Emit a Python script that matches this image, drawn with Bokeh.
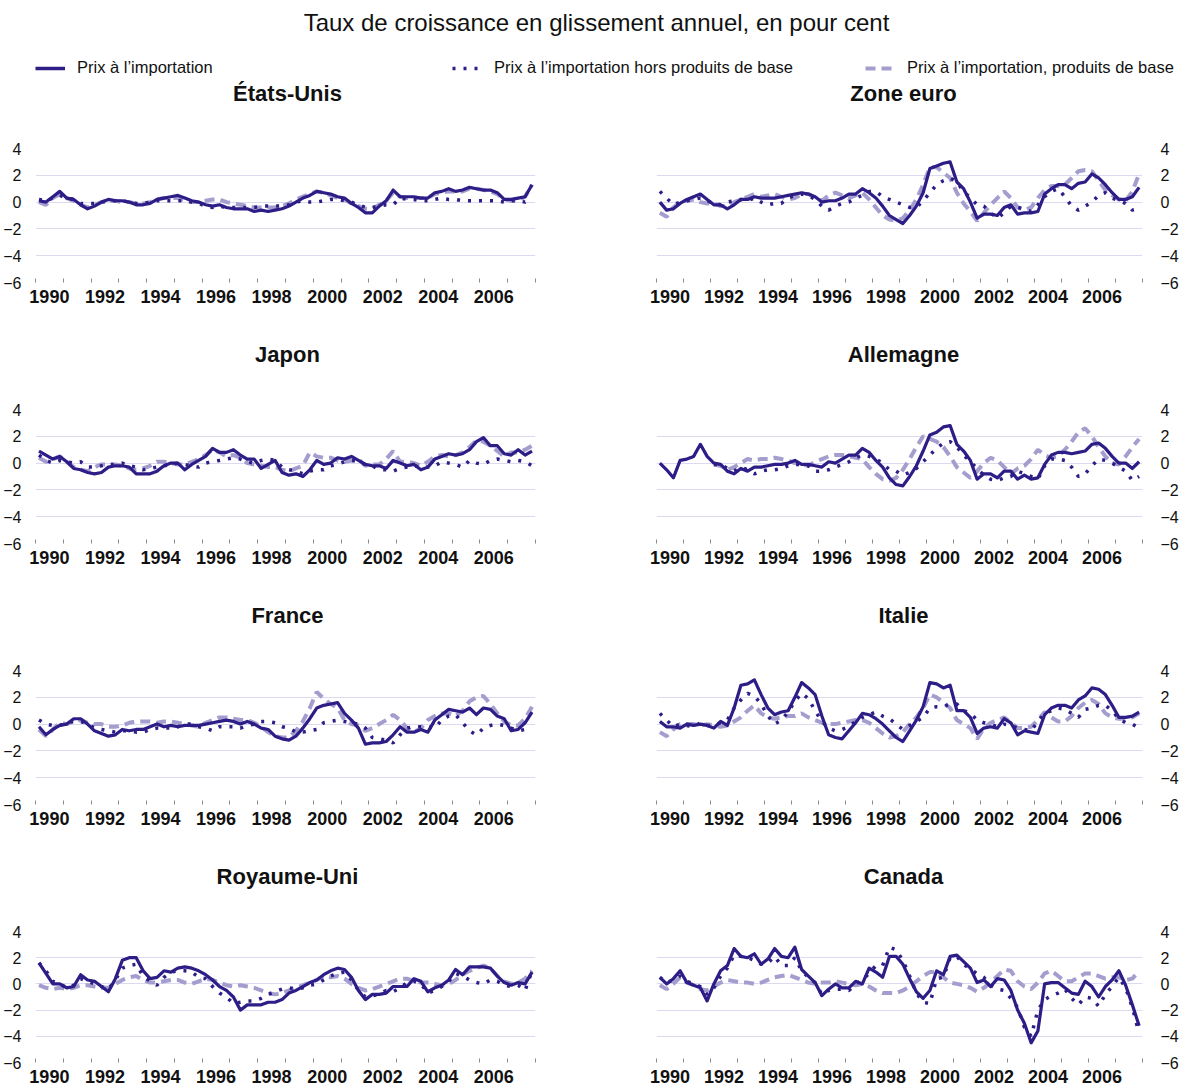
import numpy as np
from bokeh.embed import file_html
from bokeh.layouts import column, row
from bokeh.models import ColumnDataSource, FixedTicker, Label, Legend, LegendItem, Range1d
from bokeh.plotting import figure
from bokeh.resources import INLINE

nan = float("nan")

# Quarterly year-on-year growth of import prices, 1990Q1-2007Q4 (per cent)
YEARS = list(range(1990, 2008))
TICK_LABELS = ["1990", "1992", "1994", "1996", "1998", "2000", "2002", "2004", "2006"]
Y_TICKS = [-6, -4, -2, 0, 2, 4]

SERIES_NAMES = [
    "Prix à l’importation",
    "Prix à l’importation hors produits de base",
    "Prix à l’importation, produits de base",
]

# --- États-Unis ---
us_total = [0.1, 0.0, 0.4, 0.8, 0.3, 0.2, -0.2, -0.5, -0.3, 0.0, 0.2, 0.1,
            0.1, 0.0, -0.2, -0.2, -0.1, 0.2, 0.3, 0.4, 0.5, 0.3, 0.1, 0.0,
            -0.2, -0.3, -0.2, -0.4, -0.5, -0.5, -0.5, -0.7, -0.6, -0.7, -0.6, -0.5,
            -0.3, 0.0, 0.3, 0.5, 0.8, 0.7, 0.6, 0.4, 0.3, -0.1, -0.4, -0.8,
            -0.8, -0.3, 0.1, 0.9, 0.4, 0.4, 0.4, 0.3, 0.3, 0.7, 0.8, 1.0,
            0.8, 0.9, 1.1, 1.0, 0.9, 0.9, 0.7, 0.2, 0.2, 0.3, 0.4, 1.3]
us_core = [0.2, 0.1, 0.3, 0.5, 0.3, 0.2, -0.1, -0.1, -0.1, 0.0, 0.1, 0.1,
           0.1, 0.0, -0.1, -0.1, 0.0, 0.1, 0.1, 0.1, 0.1, 0.1, 0.0, -0.1,
           -0.3, -0.4, -0.3, -0.4, -0.4, -0.4, -0.4, -0.4, -0.3, -0.3, -0.3, -0.3,
           -0.2, 0.0, 0.1, 0.0, 0.0, 0.1, 0.2, 0.2, 0.1, 0.0, -0.2, -0.4,
           -0.4, -0.3, -0.2, -0.2, 0.3, 0.2, 0.2, 0.1, 0.1, 0.2, 0.3, 0.2,
           0.2, 0.1, 0.1, 0.1, 0.1, 0.1, 0.1, 0.0, 0.1, 0.1, 0.0, 0.2]
us_commod = [0.0, -0.2, 0.3, 0.6, 0.3, 0.1, -0.2, -0.4, -0.2, 0.0, 0.1, 0.1,
             0.0, 0.0, -0.1, -0.1, 0.0, 0.2, 0.3, 0.3, 0.3, 0.1, 0.0, 0.0,
             0.1, 0.2, 0.2, 0.0, -0.1, -0.2, -0.3, -0.4, -0.4, -0.4, -0.4, -0.3,
             -0.1, 0.2, 0.4, 0.6, 0.8, 0.7, 0.5, 0.3, 0.2, -0.1, -0.3, -0.5,
             -0.5, -0.2, 0.1, 0.7, 0.4, 0.3, 0.3, 0.3, 0.3, 0.6, 0.7, 0.8,
             0.8, 0.8, 1.0, 1.0, 0.9, 0.8, 0.6, 0.2, 0.1, 0.1, 0.4, 1.3]

# --- Zone euro ---
ez_total = [0.0, -0.6, -0.5, -0.1, 0.2, 0.4, 0.6, 0.2, -0.2, -0.2, -0.5, -0.2,
            0.2, 0.2, 0.4, 0.3, 0.3, 0.3, 0.4, 0.5, 0.6, 0.7, 0.6, 0.4,
            0.0, 0.1, 0.1, 0.3, 0.6, 0.6, 1.0, 0.7, 0.3, -0.3, -1.0, -1.3,
            -1.6, -1.0, -0.3, 0.7, 2.5, 2.7, 2.9, 3.0, 1.5, 1.0, 0.0, -1.2,
            -0.9, -0.9, -1.0, -0.4, -0.2, -0.9, -0.8, -0.8, -0.7, 0.6, 1.0, 1.3,
            1.3, 1.0, 1.4, 1.5, 2.1, 1.8, 1.3, 0.7, 0.2, 0.2, 0.4, 1.1]
ez_core = [0.8, 0.3, -0.2, 0.0, 0.1, 0.2, 0.3, 0.1, -0.1, -0.2, 0.0, 0.1,
           0.2, 0.1, 0.3, 0.0, -0.2, -0.1, -0.1, 0.3, 0.5, 0.6, 0.5, 0.2,
           -0.3, -0.6, -0.3, -0.1, 0.0, 0.3, 0.5, 0.8, 0.8, 0.4, 0.2, 0.0,
           -0.2, -0.4, -0.4, 0.1, 0.7, 1.3, 1.6, 1.8, 1.5, 0.8, 0.3, -0.2,
           -0.3, -0.8, -1.2, -0.8, -0.3, -0.4, -0.5, -0.7, -0.2, 0.4, 0.8, 1.0,
           0.4, -0.3, -0.6, -0.3, 0.0, 0.5, 0.7, 0.3, 0.1, -0.1, -0.6, -0.5]
ez_commod = [-0.8, -1.1, -0.4, 0.0, 0.1, 0.2, 0.0, -0.1, -0.1, -0.3, -0.3, 0.0,
             0.2, 0.4, 0.6, 0.4, 0.5, 0.6, 0.4, 0.2, 0.3, 0.6, 0.6, 0.3,
             0.1, 0.5, 0.7, 0.5, 0.3, 0.5, 0.7, 0.2, -0.4, -1.0, -1.3, -1.4,
             -1.2, -0.6, 0.2, 1.3, 2.6, 2.6, 2.2, 1.8, 0.7, -0.1, -0.7, -1.4,
             -0.8, -0.2, 0.3, 0.8, 0.3, -0.4, -0.6, -0.4, 0.3, 0.9, 1.2, 1.2,
             1.3, 1.8, 2.3, 2.4, 2.3, 1.6, 0.9, 0.5, 0.2, 0.1, 0.8, 2.1]

# --- Japon ---
jp_total = [0.9, 0.6, 0.3, 0.5, 0.1, -0.4, -0.5, -0.7, -0.8, -0.7, -0.3, -0.2,
            -0.2, -0.3, -0.8, -0.8, -0.8, -0.6, -0.2, 0.0, 0.0, -0.5, -0.1, 0.2,
            0.5, 1.1, 0.8, 0.8, 1.0, 0.6, 0.3, 0.3, -0.4, -0.1, 0.2, -0.7,
            -0.9, -0.8, -1.0, -0.5, 0.2, -0.1, 0.0, 0.4, 0.3, 0.5, 0.2, -0.1,
            -0.2, -0.2, -0.4, 0.2, 0.0, -0.2, -0.1, -0.5, -0.3, 0.3, 0.5, 0.7,
            0.6, 0.7, 1.0, 1.6, 1.9, 1.3, 1.3, 0.7, 0.6, 1.0, 0.6, 0.9]
jp_core = [0.6, 0.2, 0.0, 0.2, 0.1, 0.0, 0.1, -0.3, -0.3, -0.2, -0.1, -0.1,
           0.0, -0.2, -0.3, -0.5, -0.4, -0.3, -0.2, -0.1, 0.0, -0.1, -0.2, -0.3,
           0.0, 0.1, 0.2, 0.3, 0.4, 0.3, 0.1, 0.0, 0.2, 0.3, 0.2, -0.3,
           -0.5, -0.6, -0.8, -0.6, -0.5, -0.5, -0.2, -0.1, 0.1, 0.2, 0.1, -0.1,
           -0.2, -0.5, -0.5, -0.6, -0.4, -0.3, -0.2, -0.3, -0.3, -0.2, 0.1, 0.0,
           -0.1, -0.3, 0.2, 0.0, -0.1, 0.2, 0.3, 0.2, 0.1, 0.2, 0.1, -0.2]
jp_commod = [0.4, 0.1, 0.3, 0.5, 0.1, -0.3, -0.5, -0.6, -0.3, -0.1, -0.1, -0.1,
             -0.2, -0.4, -0.5, -0.4, -0.2, 0.1, 0.1, 0.0, -0.1, -0.1, 0.1, 0.3,
             0.6, 1.0, 0.8, 0.5, 0.6, 0.4, 0.0, -0.1, -0.2, -0.3, -0.3, -0.5,
             -0.6, -0.4, -0.2, 0.8, 0.5, 0.4, 0.4, 0.2, 0.1, 0.2, 0.3, -0.2,
             -0.1, -0.1, 0.3, 0.9, 0.1, 0.1, 0.0, -0.2, 0.1, 0.5, 0.6, 0.5,
             0.6, 0.8, 1.2, 1.7, 1.6, 1.3, 0.9, 0.5, 0.8, 0.8, 1.0, 1.3]

# --- Allemagne (split series available from 1992) ---
de_total = [0.0, -0.5, -1.1, 0.2, 0.3, 0.5, 1.4, 0.5, 0.0, -0.1, -0.6, -0.8,
            -0.4, -0.6, -0.3, -0.3, -0.2, -0.1, -0.1, 0.0, 0.2, -0.1, -0.1, -0.2,
            -0.3, 0.1, 0.0, 0.3, 0.6, 0.6, 1.1, 0.8, 0.2, -0.3, -1.1, -1.6,
            -1.7, -1.0, -0.2, 0.9, 2.1, 2.3, 2.7, 2.8, 1.4, 0.9, 0.2, -1.2,
            -0.8, -0.8, -1.1, -0.6, -0.6, -1.2, -0.9, -1.2, -1.1, -0.1, 0.6, 0.8,
            0.8, 0.7, 0.8, 0.9, 1.4, 1.5, 1.1, 0.5, 0.0, 0.0, -0.4, 0.1]
de_core = [nan, nan, nan, nan, nan, nan, nan, nan, -0.1, -0.1, -0.4, -0.6,
           -0.3, -0.5, -0.8, -0.6, -0.5, -0.5, -0.4, -0.2, -0.1, -0.1, -0.2, -0.6,
           -0.6, -0.5, -0.3, -0.1, 0.1, 0.4, 0.6, 0.5, 0.3, 0.0, -0.5, -0.6,
           -0.9, -0.7, -0.4, 0.1, 0.6, 1.1, 1.5, 1.6, 1.2, 0.6, 0.1, -0.4,
           -0.9, -1.2, -1.3, -1.1, -1.0, -0.6, -0.8, -1.0, -1.2, -0.2, 0.3, 0.3,
           0.2, -0.3, -1.0, -0.8, -0.2, 0.3, 0.2, 0.0, -0.3, -0.6, -1.3, -1.0]
de_commod = [nan, nan, nan, nan, nan, nan, nan, nan, -0.1, -0.2, -0.5, -0.3,
             0.0, 0.3, 0.2, 0.3, 0.3, 0.4, 0.3, 0.2, 0.0, -0.1, -0.2, 0.1,
             0.3, 0.5, 0.6, 0.6, 0.5, 0.4, 0.3, -0.3, -0.8, -1.2, -1.3, -1.1,
             -0.5, 0.3, 1.2, 2.0, 1.8, 1.6, 1.2, 0.5, -0.3, -0.7, -1.1, -0.6,
             0.0, 0.4, 0.2, -0.3, -0.8, -0.4, -0.2, 0.3, 1.0, 0.6, 0.4, 0.5,
             1.0, 1.6, 2.3, 2.6, 2.0, 1.2, 0.5, 0.0, -0.1, 0.5, 1.2, 1.8]

# --- France ---
fr_total = [-0.2, -0.8, -0.4, -0.1, 0.0, 0.4, 0.4, 0.0, -0.5, -0.7, -0.9, -0.8,
            -0.4, -0.5, -0.4, -0.4, -0.2, 0.0, -0.2, -0.1, -0.2, -0.1, -0.1, -0.1,
            0.0, 0.1, 0.2, 0.3, 0.2, 0.0, 0.2, 0.0, -0.3, -0.4, -0.9, -1.1,
            -1.2, -0.9, -0.3, 0.4, 1.2, 1.4, 1.5, 1.6, 0.8, 0.3, -0.3, -1.5,
            -1.4, -1.4, -1.3, -0.8, -0.2, -0.6, -0.6, -0.4, -0.6, 0.3, 0.7, 1.1,
            1.0, 0.9, 1.2, 0.7, 1.2, 1.1, 0.6, 0.4, -0.5, -0.4, 0.1, 0.9]
fr_core = [0.3, 0.0, -0.1, -0.1, 0.1, 0.2, 0.2, 0.0, -0.3, -0.4, -0.5, -0.6,
           -0.5, -0.5, -0.6, -0.6, -0.4, -0.3, -0.3, -0.3, -0.2, 0.0, 0.0, -0.2,
           -0.3, -0.5, -0.2, -0.2, -0.2, -0.3, -0.1, 0.0, 0.2, 0.2, 0.1, -0.2,
           -0.3, -0.6, -0.6, -0.5, -0.4, 0.1, 0.2, 0.3, 0.2, 0.1, 0.0, -0.3,
           -1.0, -1.1, -1.2, -1.4, -0.8, -0.3, -0.2, -0.2, -0.2, -0.3, 0.3, 0.6,
           0.7, 0.1, -0.5, -0.8, -0.3, -0.1, 0.0, -0.1, -0.3, -0.5, -0.4, -0.4]
fr_commod = [-0.4, -0.9, -0.4, 0.1, 0.0, 0.2, 0.3, 0.1, 0.0, 0.0, -0.2, -0.2,
             -0.1, 0.1, 0.2, 0.2, 0.2, 0.1, 0.2, 0.2, 0.1, 0.0, -0.1, -0.2,
             0.1, 0.3, 0.5, 0.5, 0.4, 0.3, 0.3, 0.1, -0.2, -0.6, -0.9, -1.0,
             -1.0, -0.5, 0.2, 1.2, 2.4, 1.9, 1.5, 1.2, 0.3, 0.0, -0.1, -0.5,
             -0.3, 0.0, 0.3, 0.7, 0.3, -0.3, -0.6, -0.3, 0.3, 0.6, 0.8, 0.8,
             0.6, 1.0, 1.7, 2.0, 2.1, 1.5, 0.8, 0.2, -0.1, -0.1, 0.4, 1.3]

# --- Italie ---
it_total = [0.2, -0.2, -0.2, -0.3, 0.0, -0.1, 0.0, -0.1, -0.3, 0.2, -0.1, 1.2,
            2.9, 3.0, 3.3, 2.2, 1.2, 0.7, 0.9, 1.0, 2.0, 3.1, 2.7, 2.2,
            0.6, -0.8, -1.0, -1.1, -0.5, 0.1, 0.8, 0.7, 0.4, 0.0, -0.5, -1.0,
            -1.3, -0.5, 0.3, 1.3, 3.1, 3.0, 2.7, 2.9, 1.0, 1.0, 0.5, -0.7,
            -0.3, -0.2, -0.3, 0.4, 0.1, -0.8, -0.5, -0.6, -0.7, 0.7, 1.2, 1.4,
            1.4, 1.2, 1.8, 2.1, 2.7, 2.6, 2.2, 1.4, 0.5, 0.5, 0.6, 0.9]
it_core = [0.8, 0.3, -0.2, 0.0, -0.1, -0.2, 0.1, -0.1, -0.1, 0.1, 0.3, 1.2,
           1.8, 2.3, 2.1, 1.5, 0.6, 0.0, 0.3, 0.9, 1.7, 2.3, 1.9, 1.0,
           0.2, -0.3, -0.5, -0.4, -0.2, 0.2, 0.5, 0.7, 0.9, 0.6, 0.4, 0.0,
           -0.4, -0.1, 0.2, 0.5, 1.2, 1.3, 1.3, 1.5, 1.5, 1.0, 0.8, 0.3,
           0.1, 0.0, -0.2, 0.0, -0.1, -0.3, -0.4, -0.5, 0.2, 0.8, 1.0, 1.2,
           1.1, 0.8, 0.5, 1.1, 1.2, 1.4, 1.4, 1.0, 0.4, 0.1, 0.0, -0.3]
it_commod = [-0.6, -0.9, -0.4, 0.0, 0.0, 0.0, -0.1, 0.0, -0.1, -0.2, -0.1, 0.2,
             0.5, 1.0, 1.4, 0.8, 0.5, 0.4, 0.5, 0.6, 0.6, 0.8, 0.5, 0.3,
             0.1, 0.0, 0.0, 0.1, 0.2, 0.3, 0.3, 0.1, -0.3, -0.7, -1.0, -0.9,
             -0.6, 0.0, 0.5, 1.2, 2.2, 2.0, 1.6, 1.2, 0.3, 0.0, -0.3, -1.1,
             -0.3, 0.1, 0.3, 0.5, 0.1, -0.3, -0.3, -0.2, 0.3, 0.9, 0.5, 0.2,
             0.2, 0.6, 1.2, 1.6, 1.8, 1.5, 0.8, 0.5, 0.4, 0.4, 0.5, 0.8]

# --- Royaume-Uni ---
uk_total = [1.6, 0.8, 0.0, 0.0, -0.3, -0.2, 0.7, 0.3, 0.2, -0.2, -0.6, 0.4,
            1.8, 2.0, 2.0, 1.0, 0.4, 0.5, 1.0, 0.9, 1.2, 1.3, 1.2, 1.0,
            0.7, 0.3, -0.2, -0.5, -1.0, -2.0, -1.6, -1.6, -1.6, -1.4, -1.4, -1.2,
            -0.7, -0.5, -0.2, 0.1, 0.3, 0.7, 1.0, 1.2, 1.1, 0.5, -0.5, -1.2,
            -0.8, -0.8, -0.7, -0.2, -0.2, -0.2, 0.4, 0.2, -0.6, -0.3, -0.1, 0.3,
            1.1, 0.7, 1.3, 1.3, 1.3, 1.2, 0.6, 0.1, -0.1, 0.1, 0.0, 0.9]
uk_core = [1.6, 1.0, 0.2, 0.0, -0.3, -0.1, 0.4, 0.2, 0.0, -0.2, -0.4, 0.3,
           1.2, 1.4, 1.5, 0.6, 0.2, -0.1, 0.5, 0.9, 1.0, 1.0, 0.9, 0.5,
           0.4, -0.2, -0.7, -1.0, -1.5, -1.4, -1.3, -1.3, -1.1, -0.8, -0.6, -0.4,
           -0.3, -0.4, -0.3, -0.1, 0.0, 0.3, 0.6, 0.8, 0.9, 0.3, -0.5, -1.0,
           -0.9, -0.8, -0.5, -0.6, -0.3, 0.1, 0.2, 0.0, -0.7, -0.5, -0.2, 0.2,
           0.8, 0.6, 0.3, 0.1, 0.0, 0.3, 0.2, -0.1, -0.2, -0.1, -0.5, 1.0]
uk_commod = [-0.1, -0.3, -0.4, -0.3, -0.4, -0.3, -0.1, -0.1, -0.2, -0.3, -0.3, 0.0,
             0.3, 0.5, 0.6, 0.3, 0.1, 0.1, 0.2, 0.3, 0.3, 0.1, 0.0, 0.2,
             0.4, 0.3, 0.1, -0.1, -0.2, -0.1, -0.2, -0.3, -0.5, -0.7, -0.8, -0.7,
             -0.5, -0.3, -0.1, 0.1, 0.3, 0.6, 0.5, 0.6, 0.4, 0.0, -0.3, -0.5,
             -0.4, -0.2, 0.0, 0.2, 0.4, 0.4, 0.2, 0.1, 0.1, 0.0, -0.1, 0.0,
             0.3, 0.7, 1.0, 1.2, 1.4, 1.2, 0.6, 0.2, 0.0, 0.1, 0.4, 1.0]

# --- Canada ---
ca_total = [0.5, 0.0, 0.4, 1.0, 0.1, -0.1, -0.3, -1.3, 0.0, 1.0, 1.4, 2.7,
            2.1, 2.0, 2.3, 1.5, 1.9, 2.7, 2.1, 2.0, 2.8, 1.1, 0.6, 0.1,
            -0.9, -0.4, 0.0, -0.3, -0.3, 0.2, 0.0, 1.2, 0.9, 0.5, 2.1, 2.1,
            1.5, 0.4, -0.6, -1.1, -0.5, 1.0, 0.7, 2.1, 2.2, 1.7, 1.2, 0.1,
            0.3, -0.2, 0.4, 0.3, -0.5, -2.0, -3.0, -4.5, -3.6, 0.0, 0.1, 0.1,
            -0.3, -0.7, -0.8, 0.2, -0.2, -1.0, -0.2, 0.3, 1.0, -0.1, -1.6, -3.2]
ca_core = [0.5, 0.1, 0.3, 0.6, 0.2, 0.0, -0.2, -0.8, -0.3, 0.6, 1.2, 2.2,
           2.1, 2.0, 1.8, 1.5, 1.6, 2.1, 1.4, 1.4, 2.0, 1.0, 0.5, 0.1,
           -0.8, -0.5, -0.4, -0.4, -0.5, 0.0, 0.3, 0.8, 1.4, 1.4, 2.8, 2.6,
           1.8, 0.6, -0.7, -1.4, -1.5, 0.4, 0.5, 2.0, 2.1, 1.5, 1.1, 0.8,
           0.5, -0.1, -0.4, -0.5, -1.1, -1.8, -3.3, -4.0, -2.0, -1.2, -0.9, -0.7,
           -0.4, -1.1, -1.6, -1.0, -1.1, -1.7, -0.8, -0.2, 0.5, -0.3, -1.8, -3.8]
ca_commod = [-0.1, -0.4, 0.0, 0.5, 0.1, -0.1, -0.4, -0.5, -0.2, 0.1, 0.3, 0.2,
             0.1, 0.1, 0.0, 0.1, 0.3, 0.5, 0.6, 0.7, 0.5, 0.3, 0.1, 0.0,
             0.1, 0.1, 0.2, 0.1, 0.0, -0.1, 0.0, -0.2, -0.5, -0.7, -0.7, -0.7,
             -0.5, -0.2, 0.2, 0.6, 0.9, 0.9, 0.5, 0.1, 0.0, -0.1, -0.3, -0.6,
             -0.3, 0.1, 0.6, 1.1, 1.0, 0.2, -0.2, -0.4, 0.1, 0.8, 1.0, 0.6,
             0.2, 0.2, 0.5, 0.8, 0.8, 0.6, 0.4, 0.5, 0.5, 0.3, 0.4, 1.0]

FONT = "Liberation Sans"
DARK = "#2c1d87"
LIGHT = "#a49ecf"
GRID = "#dcdaf0"
TEXT = "#111111"

PAGE_W = 1181
HEADER_H = 80          # overall title + legend
STRIP_H = 30           # country titles above each row of panels
FRAME_TOP = 38
FRAME_H = 134
PANEL_H = 231
LAST_PANEL_H = 1085 - HEADER_H - 4 * STRIP_H - 3 * PANEL_H

LEFT_W, RIGHT_W = 590, 591
LEFT_BORDERS = (35, 55)     # (left, right) around a 500 px frame
RIGHT_BORDERS = (66, 27)    # (left, right) around a 498 px frame

# each quarter sits inside its calendar year; a year's label is at mid-year
quarter_x = [y + (q - 2.5) / 4 for y in YEARS for q in range(1, 5)]
year_edges = [y - 0.5 for y in YEARS] + [YEARS[-1] + 0.5]


def make_panel(total, core, commod, side, height):
    left = side == "left"
    bl, br = LEFT_BORDERS if left else RIGHT_BORDERS
    p = figure(
        width=LEFT_W if left else RIGHT_W, height=height,
        x_range=Range1d(year_edges[0], year_edges[-1]), y_range=Range1d(-6, 4),
        output_backend="svg", toolbar_location=None, y_axis_location=side,
        min_border_top=FRAME_TOP, min_border_bottom=height - FRAME_TOP - FRAME_H,
        min_border_left=bl, min_border_right=br,
    )
    p.outline_line_color = None
    p.background_fill_color = "white"
    p.border_fill_color = "white"

    src = ColumnDataSource(dict(
        x=quarter_x,
        total=np.array(total, dtype=float),
        core=np.array(core, dtype=float),
        commod=np.array(commod, dtype=float),
    ))
    p.line("x", "commod", source=src, line_color=LIGHT, line_width=4, line_dash="10 6")
    p.line("x", "total", source=src, line_color=DARK, line_width=3.2, line_join="round")
    p.line("x", "core", source=src, line_color=DARK, line_width=3.5, line_dash="3 8")

    xa = p.xaxis[0]
    xa.ticker = FixedTicker(ticks=[int(t) for t in TICK_LABELS], minor_ticks=year_edges)
    xa.axis_line_color = None
    xa.major_tick_line_color = None
    xa.minor_tick_in = 4
    xa.minor_tick_out = 0
    xa.minor_tick_line_color = "#8c8c8c"
    xa.major_label_text_font = FONT
    xa.major_label_text_font_size = "18px"
    xa.major_label_text_font_style = "bold"
    xa.major_label_text_color = TEXT
    xa.major_label_standoff = 1

    ya = p.yaxis[0]
    ya.ticker = FixedTicker(ticks=Y_TICKS)
    ya.axis_line_color = None
    ya.major_tick_line_color = None
    ya.minor_tick_line_color = None
    ya.major_label_text_font = FONT
    ya.major_label_text_font_size = "16px"
    ya.major_label_text_color = TEXT
    ya.major_label_standoff = 8 if left else 12

    p.xgrid.visible = False
    p.ygrid.ticker = FixedTicker(ticks=[t for t in Y_TICKS if t != -6])
    p.ygrid.grid_line_color = GRID
    p.ygrid.grid_line_width = 1
    return p


def blank_strip(height):
    s = figure(width=PAGE_W, height=height, x_range=Range1d(0, PAGE_W), y_range=Range1d(0, height),
               output_backend="svg", toolbar_location=None, min_border=0,
               x_axis_location=None, y_axis_location=None)
    s.grid.visible = False
    s.outline_line_color = None
    return s


def title_strip(left_name, right_name):
    s = blank_strip(STRIP_H)
    centres = [LEFT_BORDERS[0] + (LEFT_W - sum(LEFT_BORDERS)) / 2 + 2,
               LEFT_W + RIGHT_BORDERS[0] + (RIGHT_W - sum(RIGHT_BORDERS)) / 2 - 2]
    for name, cx in zip([left_name, right_name], centres):
        s.add_layout(Label(x=cx, y=STRIP_H - 13, text=name, text_align="center",
                           text_baseline="middle", text_font=FONT, text_font_size="22px",
                           text_font_style="bold", text_color=TEXT))
    return s


# header: overall title and the shared legend
head = blank_strip(HEADER_H)
head.add_layout(Label(x=596, y=HEADER_H - 22, text="Taux de croissance en glissement annuel, en pour cent",
                      text_align="center", text_baseline="middle", text_font=FONT,
                      text_font_size="24px", text_color=TEXT))

# legend-only renderers (a single missing point, so nothing is drawn in the frame)
key_src = ColumnDataSource(dict(x=[nan], y=[nan]))
r_total = head.line("x", "y", source=key_src, line_color=DARK, line_width=3.5)
r_core = head.line("x", "y", source=key_src, line_color=DARK, line_width=3.5, line_dash="3 8")
r_commod = head.line("x", "y", source=key_src, line_color=LIGHT, line_width=4, line_dash="10 6")
for name, rend, x0 in zip(SERIES_NAMES, [r_total, r_core, r_commod], [35, 452, 865]):
    head.add_layout(Legend(
        items=[LegendItem(label=name, renderers=[rend])],
        location=(x0, 3), orientation="horizontal", padding=0, margin=0, spacing=0,
        glyph_width=30, glyph_height=14, label_height=14, label_standoff=12,
        label_text_font=FONT, label_text_font_size="16.5px", label_text_color=TEXT,
        border_line_color=None, background_fill_alpha=0,
    ))

panels = [
    ("États-Unis", us_total, us_core, us_commod),
    ("Zone euro", ez_total, ez_core, ez_commod),
    ("Japon", jp_total, jp_core, jp_commod),
    ("Allemagne", de_total, de_core, de_commod),
    ("France", fr_total, fr_core, fr_commod),
    ("Italie", it_total, it_core, it_commod),
    ("Royaume-Uni", uk_total, uk_core, uk_commod),
    ("Canada", ca_total, ca_core, ca_commod),
]

blocks = [head]
for r in range(4):
    h = PANEL_H if r < 3 else LAST_PANEL_H
    a = panels[2 * r]
    b = panels[2 * r + 1]
    blocks.append(title_strip(a[0], b[0]))
    blocks.append(row(make_panel(*a[1:], "left", h), make_panel(*b[1:], "right", h)))

layout = column(*blocks)
open("out.html", "w").write(file_html(layout, INLINE))
